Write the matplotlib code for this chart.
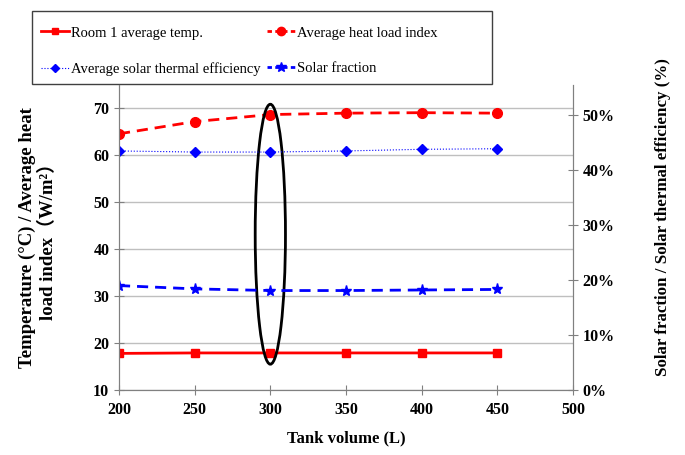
import matplotlib
matplotlib.use("Agg")
import matplotlib.pyplot as plt
from matplotlib.lines import Line2D
from matplotlib.patches import Ellipse, Rectangle
from matplotlib.ticker import PercentFormatter

# data
tank_volume = [200, 250, 300, 350, 400, 450]
room_temp = [17.8, 17.9, 17.9, 17.9, 17.9, 17.9]
heat_load = [64.6, 67.2, 68.7, 69.0, 69.1, 69.0]
solar_eff = [0.435, 0.433, 0.433, 0.435, 0.438, 0.439]
solar_frac = [0.190, 0.184, 0.181, 0.181, 0.182, 0.183]

left_ticks = [10, 20, 30, 40, 50, 60, 70]
right_ticks = [0, 0.1, 0.2, 0.3, 0.4, 0.5]
x_ticks = [200, 250, 300, 350, 400, 450, 500]

serif = ['Liberation Serif', 'DejaVu Serif', 'Noto Sans CJK SC']
plt.rcParams['font.family'] = serif

W, H = 685, 455
fig = plt.figure(figsize=(W / 100, H / 100), dpi=100)
ax = fig.add_axes([119 / W, 1 - 390 / H, (573 - 119) / W, (390 - 85) / H])
ax2 = ax.twinx()

# left axis series
l1, = ax.plot(tank_volume, room_temp, color='red', lw=2, marker='s', ms=6,
              label='Room 1 average temp.')
l2, = ax.plot(tank_volume, heat_load, color='red', lw=2, ls=(0, (4, 2.5)), marker='o', ms=7,
              label='Average heat load index')
# right axis series
l3, = ax2.plot(tank_volume, solar_eff, color='blue', lw=0.8, ls=':', marker='D', ms=5,
               label='Average solar thermal efficiency')
l4, = ax2.plot(tank_volume, solar_frac, color='blue', lw=2, ls=(0, (4, 2.5)), marker='*', ms=8,
               label='Solar fraction')

ax.set_xlim(200, 500)
ax.set_ylim(10, 75)
ax.set_xticks(x_ticks)
ax.set_yticks(left_ticks)
ax2.set_ylim(0, 0.555)
ax2.set_yticks(right_ticks)
ax2.yaxis.set_major_formatter(PercentFormatter(1.0, decimals=0))

ax.grid(axis='y', color='#bfbfbf', lw=1)
ax.set_axisbelow(True)

for a in (ax, ax2):
    for s in a.spines.values():
        s.set_color('#808080')
    a.spines['top'].set_visible(False)
    a.tick_params(direction='inout', length=7, color='#808080', labelsize=11.5)
    for lab in a.get_xticklabels() + a.get_yticklabels():
        lab.set_fontweight('bold')
ax.tick_params(axis='x', pad=5)

# highlight ellipse around 300 L
ax.add_patch(Ellipse((300, 43.2), 20, 55.4, fill=False, ec='black', lw=2, zorder=10))
ax2.set_zorder(ax.get_zorder() + 1)
ax2.patch.set_visible(False)

ax.set_xlabel('Tank volume (L)', fontsize=12, fontweight='bold', labelpad=9)
ax.set_ylabel('Temperature (°C) / Average heat\nload index（W/m²）', fontsize=13.5,
              fontweight='bold', labelpad=26, linespacing=1.2)
ax2.set_ylabel('Solar fraction / Solar thermal efficiency (%)', fontsize=12.2,
               fontweight='bold')
ax2.yaxis.set_label_coords((655 - 119) / 454, (390 - 217) / 305)

# legend box with a fixed size, as in the reference
fig.add_artist(Rectangle((32 / W, 1 - 84 / H), 460 / W, 73 / H, transform=fig.transFigure,
                         fill=False, ec='#404040', lw=1))
# short-dash proxies so the dashes show in the small legend handles
h1 = Line2D([], [], color='red', lw=2, marker='s', ms=5)
h2 = Line2D([], [], color='red', lw=2, ls=(0, (1.6, 1.2)), marker='o', ms=6)
h3 = Line2D([], [], color='blue', lw=0.8, ls=':', marker='D', ms=4)
h4 = Line2D([], [], color='blue', lw=2, ls=(0, (1.6, 1.2)), marker='*', ms=7)
leg = fig.legend([h1, h3, h2, h4], [h.get_label() for h in (l1, l3, l2, l4)],
                 ncol=2, loc='upper left', bbox_to_anchor=(34 / W, 1 - 19 / H),
                 fontsize=10.5, frameon=False,
                 handlelength=1.9, handletextpad=0.15, columnspacing=0.45,
                 labelspacing=1.55, borderpad=0.5, borderaxespad=0)

fig.savefig('out.png', dpi=100)
